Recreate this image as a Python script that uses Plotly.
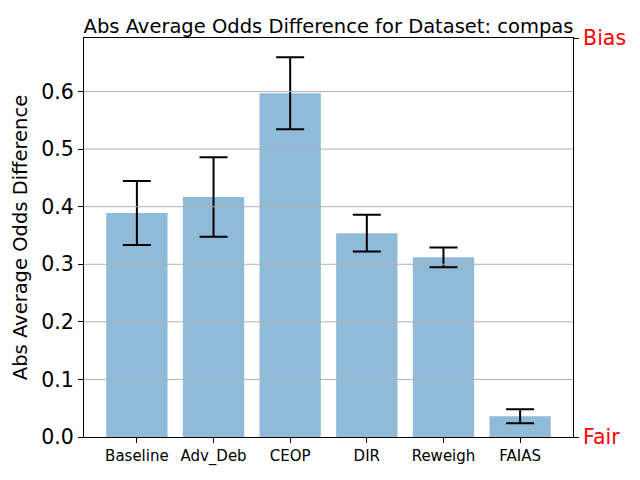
import plotly.graph_objects as go

categories = ["Baseline", "Adv_Deb", "CEOP", "DIR", "Reweigh", "FAIAS"]
values = [0.389, 0.417, 0.597, 0.354, 0.312, 0.036]
errors = [0.0555, 0.069, 0.0625, 0.032, 0.017, 0.012]
yticks = [0.0, 0.1, 0.2, 0.3, 0.4, 0.5, 0.6]
ymax = 0.693
title = "Abs Average Odds Difference for Dataset: compas"
ylabel = "Abs Average Odds Difference"
right_labels = ["Fair", "Bias"]

FONT = "DejaVu Sans"
fig = go.Figure()
fig.add_trace(go.Bar(
    x=list(range(len(categories))), y=values,
    width=0.8,
    marker=dict(color="rgba(31,119,180,0.5)", line=dict(width=0)),
    error_y=dict(type="data", array=errors, visible=True, color="black",
                 thickness=2, width=14),
    showlegend=False,
))
# invisible trace for right axis
fig.add_trace(go.Scatter(x=[0], y=[0], yaxis="y2", mode="markers",
                         marker=dict(opacity=0), showlegend=False, hoverinfo="skip"))

for t in yticks[1:]:
    fig.add_shape(type="line", xref="paper", x0=0, x1=1, yref="y", y0=t, y1=t,
                  line=dict(color="#b0b0b0", width=1), layer="above")

fig.update_layout(
    width=640, height=480,
    margin=dict(l=84, r=67, t=38, b=43, autoexpand=False),
    plot_bgcolor="white", paper_bgcolor="white",
    font=dict(family=FONT, color="black"),
    title=dict(text=title, x=0.5, xanchor="center", xref="paper",
               y=1, yref="paper", yanchor="bottom", pad=dict(b=5),
               font=dict(size=19.5, family=FONT, color="black")),
    bargap=0.2,
    xaxis=dict(
        range=[-0.69, 5.69], automargin=False,
        tickvals=list(range(len(categories))), ticktext=categories,
        tickfont=dict(size=15, family=FONT),
        ticks="outside", ticklen=5, tickcolor="black",
        showline=True, linecolor="black", linewidth=1, mirror=True,
        showgrid=False, zeroline=False,
    ),
    yaxis=dict(
        range=[0, ymax], automargin=False,
        tickvals=yticks, ticktext=[f"{t:.1f}" for t in yticks],
        tickfont=dict(size=20.5, family=FONT),
        ticks="outside", ticklen=5, tickcolor="black",
        showline=True, linecolor="black", linewidth=1,
        showgrid=False, zeroline=False,
        title=dict(text=ylabel, font=dict(size=19.5, family=FONT), standoff=8),
    ),
    yaxis2=dict(
        overlaying="y", side="right", range=[0, ymax], automargin=False,
        tickvals=[0, ymax], ticktext=right_labels,
        tickfont=dict(size=20.5, family=FONT, color="red"),
        ticks="outside", ticklen=5, tickcolor="black",
        showline=True, linecolor="black", linewidth=1,
        showgrid=False, zeroline=False,
    ),
)
fig.write_html("out.html", config={"displayModeBar": False},
               post_script="document.body.style.margin='0';document.body.style.padding='0';")
